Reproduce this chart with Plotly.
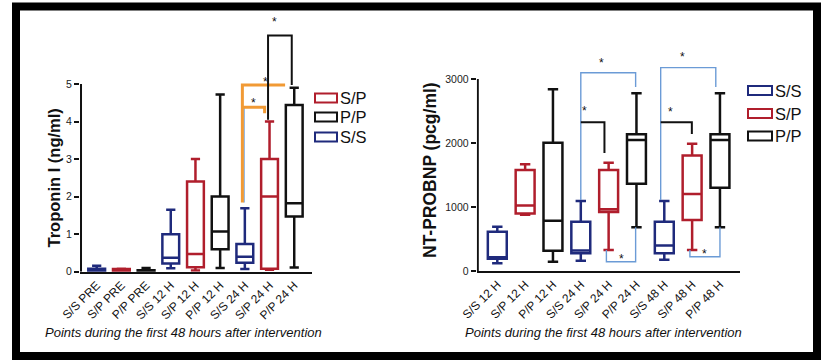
import plotly.graph_objects as go

W, H = 821, 360

# ---------------- data ----------------
left_labels = ["S/S PRE", "S/P PRE", "P/P PRE", "S/S 12 H", "S/P 12 H", "P/P 12 H",
               "S/S 24 H", "S/P 24 H", "P/P 24 H"]
right_labels = ["S/S 12 H", "S/P 12 H", "P/P 12 H", "S/S 24 H", "S/P 24 H", "P/P 24 H",
                "S/S 48 H", "S/P 48 H", "P/P 48 H"]

# Troponin I (ng/ml): [lower whisker, Q1, median, Q3, upper whisker]
trop_ss = [[0.02, 0.02, 0.05, 0.08, 0.16], [0.09, 0.22, 0.37, 1.00, 1.65], [0.07, 0.24, 0.40, 0.74, 1.69]]
trop_sp = [[0.02, 0.02, 0.05, 0.07, 0.08], [0.03, 0.12, 0.47, 2.40, 3.00], [0.05, 0.08, 2.00, 3.00, 4.00]]
trop_pp = [[0.02, 0.02, 0.03, 0.04, 0.10], [0.10, 0.60, 1.07, 2.00, 4.72], [0.11, 1.47, 1.82, 4.44, 4.90]]

# NT-PROBNP (pcg/ml): [lower whisker, Q1, median, Q3, upper whisker]
bnp_ss = [[120, 190, 215, 612, 690], [160, 277, 320, 770, 1095], [175, 277, 400, 770, 1095]]
bnp_sp = [[880, 900, 1025, 1580, 1668], [328, 920, 964, 1578, 1692], [328, 797, 1203, 1805, 1990]]
bnp_pp = [[145, 317, 786, 2005, 2840], [683, 1365, 2047, 2136, 2777], [683, 1300, 2047, 2136, 2777]]

pos_ss = [0, 3, 6]
pos_sp = [1, 4, 7]
pos_pp = [2, 5, 8]

# significance brackets: (x positions, y values)
left_orange = [([5.9, 5.9, 7.63], [1.84, 4.97, 4.97]),
               ([5.9, 6.8, 6.8], [4.38, 4.38, 4.22])]
left_black = [([6.94, 6.94, 7.9, 7.9], [4.05, 6.29, 6.29, 4.97])]
left_stars = [(7.22, 6.73), (6.84, 5.13), (6.37, 4.56)]

right_blue = [([3.0, 3.0, 4.97, 4.97], [1110, 3098, 3098, 2875]),
              ([5.87, 5.87, 7.85, 7.85], [1110, 3177, 3177, 2875]),
              ([3.92, 3.92, 4.97, 4.97], [328, 145, 145, 683]),
              ([6.92, 6.92, 8.0, 8.0], [328, 223, 223, 683])]
right_black = [([3.0, 3.85, 3.85], [2323, 2323, 1844]),
               ([5.87, 6.99, 6.99], [2323, 2323, 2140])]
right_stars = [(3.75, 3297), (6.66, 3391), (3.12, 2542), (6.23, 2526), (4.47, 234), (7.46, 313)]

# ---------------- styling ----------------
NAVY = "#1f2a7c"
RED = "#b01e2c"
BLACK = "#111111"
ORANGE = "#f19a35"
LBLUE = "#6b9bd6"
FONT = "Liberation Sans, Arial, sans-serif"


def px(x):
    return x / W


def py(y):
    return 1 - y / H


def box(pos, stats, color, xa, ya):
    return go.Box(
        x=pos,
        lowerfence=[s[0] for s in stats], q1=[s[1] for s in stats],
        median=[s[2] for s in stats], q3=[s[3] for s in stats],
        upperfence=[s[4] for s in stats],
        width=0.68, whiskerwidth=0.55,
        line=dict(color=color, width=2.5), fillcolor="white",
        boxpoints=False, xaxis=xa, yaxis=ya, showlegend=False, hoverinfo="skip",
    )


fig = go.Figure()
fig.add_trace(box(pos_ss, trop_ss, NAVY, "x", "y"))
fig.add_trace(box(pos_sp, trop_sp, RED, "x", "y"))
fig.add_trace(box(pos_pp, trop_pp, BLACK, "x", "y"))
fig.add_trace(box(pos_ss, bnp_ss, NAVY, "x2", "y2"))
fig.add_trace(box(pos_sp, bnp_sp, RED, "x2", "y2"))
fig.add_trace(box(pos_pp, bnp_pp, BLACK, "x2", "y2"))

shapes = []


def path(xs, ys):
    return "M" + " L".join(f"{a},{b}" for a, b in zip(xs, ys))


# y-axis lines (stop at the top tick)
shapes.append(dict(type="line", xref="x", yref="y", x0=-0.635, x1=-0.635, y0=0, y1=5,
                   line=dict(color=BLACK, width=2)))
shapes.append(dict(type="line", xref="x2", yref="y2", x0=-0.70, x1=-0.70, y0=0, y1=3000,
                   line=dict(color=BLACK, width=2)))

# left brackets
shapes.append(dict(type="line", xref="x", yref="y", x0=5.97, x1=5.97, y0=1.84, y1=4.38,
                   line=dict(color=LBLUE, width=1.2)))
for xs, ys in left_orange:
    shapes.append(dict(type="path", xref="x", yref="y", path=path(xs, ys),
                       line=dict(color=ORANGE, width=3)))
for xs, ys in left_black:
    shapes.append(dict(type="path", xref="x", yref="y", path=path(xs, ys),
                       line=dict(color=BLACK, width=2)))
# right brackets
for xs, ys in right_blue:
    shapes.append(dict(type="path", xref="x2", yref="y2", path=path(xs, ys),
                       line=dict(color=LBLUE, width=1.4)))
for xs, ys in right_black:
    shapes.append(dict(type="path", xref="x2", yref="y2", path=path(xs, ys),
                       line=dict(color=BLACK, width=2)))

annotations = []
for x, y in left_stars:
    annotations.append(dict(xref="x", yref="y", x=x, y=y, text="*", showarrow=False,
                            xanchor="center", yanchor="middle",
                            font=dict(size=12, color=BLACK, family=FONT), yshift=-3))
for x, y in right_stars:
    annotations.append(dict(xref="x2", yref="y2", x=x, y=y, text="*", showarrow=False,
                            xanchor="center", yanchor="middle",
                            font=dict(size=12, color=BLACK, family=FONT), yshift=-3))

# custom legends
left_leg = [("S/P", RED, 98), ("P/P", BLACK, 117), ("S/S", NAVY, 137)]
right_leg = [("S/S", NAVY, 90.5), ("S/P", RED, 113.5), ("P/P", BLACK, 136)]
for items, x0, x1 in [(left_leg, 315, 337), (right_leg, 748, 772)]:
    for name, col, yc in items:
        shapes.append(dict(type="rect", xref="paper", yref="paper",
                           x0=px(x0), x1=px(x1), y0=py(yc + 4.5), y1=py(yc - 4.5),
                           line=dict(color=col, width=2), fillcolor="white"))
        annotations.append(dict(xref="paper", yref="paper", x=px(x1 + 0.5), y=py(yc),
                                xanchor="left", yanchor="middle", text=name, showarrow=False,
                                font=dict(size=16.5, color=BLACK, family=FONT)))

# axis titles
annotations.append(dict(xref="paper", yref="paper", x=px(53), y=py(177.5), text="<b>Troponin I (ng/ml)</b>",
                        xanchor="center", yanchor="middle",
                        textangle=-90, showarrow=False, font=dict(size=16.5, color=BLACK, family=FONT)))
annotations.append(dict(xref="paper", yref="paper", x=px(430), y=py(170), text="<b>NT-PROBNP (pcg/ml)</b>",
                        xanchor="center", yanchor="middle",
                        textangle=-90, showarrow=False, font=dict(size=17.5, color=BLACK, family=FONT)))
annotations.append(dict(xref="paper", yref="paper", x=px(183.5), y=py(332),
                        xanchor="center", yanchor="middle",
                        text="<i>Points during the first 48 hours after intervention</i>",
                        showarrow=False, font=dict(size=13, color=BLACK, family=FONT)))
annotations.append(dict(xref="paper", yref="paper", x=px(603), y=py(332),
                        xanchor="center", yanchor="middle",
                        text="<i>Points during the first 48 hours after intervention</i>",
                        showarrow=False, font=dict(size=13, color=BLACK, family=FONT)))

# outer frame
shapes.append(dict(type="rect", xref="paper", yref="paper", x0=px(16), x1=px(817),
                   y0=py(356), y1=py(6.5), line=dict(color="black", width=8)))

xcommon = dict(type="linear", tickmode="array", tickvals=list(range(9)), tickangle=-45,
               showline=True, linecolor=BLACK, linewidth=2, ticks="", showgrid=False,
               zeroline=False, automargin=False,
               tickfont=dict(size=12, color=BLACK, family=FONT), fixedrange=True)
ycommon = dict(showline=False, ticks="outside", ticklen=5, tickwidth=1.5, tickcolor=BLACK,
               showgrid=False, zeroline=False, automargin=False,
               tickfont=dict(size=10.5, color="#222222", family=FONT), fixedrange=True)

fig.update_layout(
    template="none",
    width=W, height=H, autosize=False, margin=dict(l=0, r=0, t=0, b=0, pad=0),
    paper_bgcolor="white", plot_bgcolor="white", showlegend=False, boxmode="overlay",
    font=dict(family=FONT, color=BLACK),
    xaxis=dict(xcommon, domain=[px(80), px(312)], range=[-0.676, 8.72], ticktext=left_labels, anchor="y"),
    yaxis=dict(ycommon, domain=[py(271.7), py(8.9)], range=[0, 7], tickvals=[0, 1, 2, 3, 4, 5], anchor="x"),
    xaxis2=dict(xcommon, domain=[px(476.7), px(740)], range=[-0.74, 8.72], ticktext=right_labels, anchor="y2"),
    yaxis2=dict(ycommon, domain=[py(271), py(27.8)], range=[0, 3800], tickvals=[0, 1000, 2000, 3000], anchor="x2"),
    shapes=shapes, annotations=annotations,
)

fig.write_html("out.html")
